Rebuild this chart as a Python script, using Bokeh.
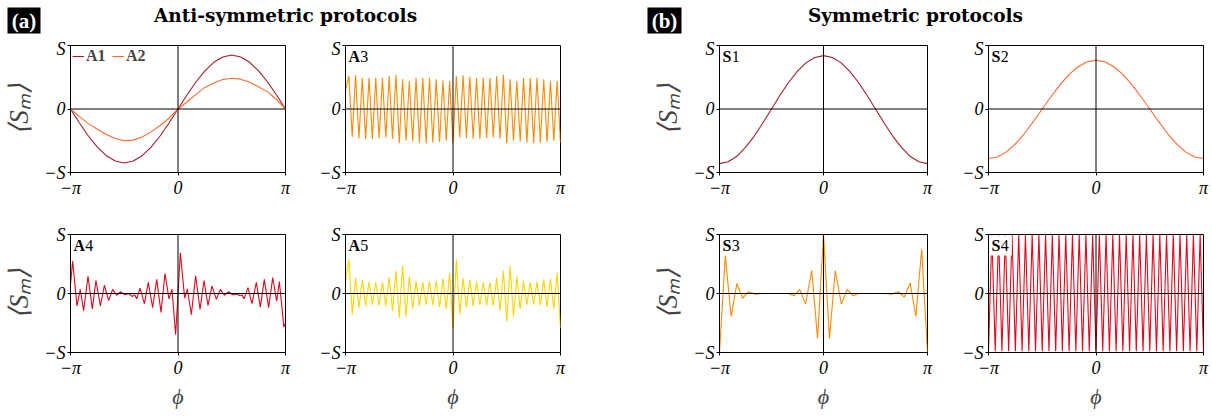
import numpy as np
from bokeh.plotting import figure
from bokeh.models import Range1d, Span, Label, Legend, LegendItem, BoxAnnotation, FixedTicker
from bokeh.layouts import column, row
from bokeh.embed import file_html
from bokeh.resources import INLINE

# ---------------- data: phi in units of pi, <S_m> in units of S ----------------
phi_smooth = np.linspace(-1.0, 1.0, 25)
A1 = [0.0, -0.22, -0.425, -0.60, -0.735, -0.82, -0.85, -0.82, -0.735, -0.60, -0.425, -0.22, 0.0,
      0.22, 0.425, 0.60, 0.735, 0.82, 0.85, 0.82, 0.735, 0.60, 0.425, 0.22, 0.0]
A2 = [0.0, -0.12, -0.23, -0.32, -0.40, -0.465, -0.50, -0.49, -0.44, -0.36, -0.26, -0.145, 0.0,
      0.11, 0.23, 0.34, 0.41, 0.465, 0.485, 0.47, 0.42, 0.35, 0.27, 0.15, 0.0]
S1 = [-0.86, -0.83, -0.745, -0.605, -0.43, -0.22, 0.0, 0.22, 0.425, 0.595, 0.73, 0.81, 0.84,
      0.81, 0.73, 0.595, 0.425, 0.22, 0.0, -0.22, -0.43, -0.605, -0.745, -0.83, -0.86]
S2 = [-0.78, -0.755, -0.675, -0.55, -0.39, -0.20, 0.0, 0.20, 0.385, 0.545, 0.665, 0.745, 0.77,
      0.745, 0.665, 0.545, 0.385, 0.20, 0.0, -0.20, -0.39, -0.55, -0.675, -0.755, -0.78]

phi_fast = np.linspace(-1.0, 1.0, 65)
A3 = [0.30,
      0.52, -0.44, 0.53, -0.46, 0.49, -0.47, 0.49, -0.47, 0.49, -0.46, 0.49, -0.45, 0.52, -0.47, 0.54, -0.54,
      0.47, -0.50, 0.44, -0.51, 0.49, -0.53, 0.49, -0.54, 0.49, -0.53, 0.47, -0.52, 0.45, -0.50, 0.44, -0.53,
      0.52, -0.45, 0.53, -0.46, 0.51, -0.47, 0.49, -0.47, 0.49, -0.46, 0.49, -0.45, 0.52, -0.47, 0.54, -0.54,
      0.47, -0.50, 0.44, -0.51, 0.49, -0.53, 0.49, -0.54, 0.49, -0.53, 0.47, -0.52, 0.45, -0.50, 0.44, -0.53]
A5 = [0.20,
      0.58, -0.35, 0.26, -0.24, 0.23, -0.21, 0.20, -0.19, 0.19, -0.20, 0.19, -0.21, 0.27, -0.29, 0.39, -0.41,
      0.47, -0.39, 0.29, -0.26, 0.21, -0.21, 0.19, -0.19, 0.20, -0.20, 0.22, -0.23, 0.25, -0.26, 0.35, -0.59,
      0.58, -0.35, 0.26, -0.24, 0.23, -0.21, 0.20, -0.19, 0.19, -0.20, 0.19, -0.21, 0.27, -0.29, 0.39, -0.47,
      0.47, -0.39, 0.29, -0.26, 0.21, -0.19, 0.19, -0.19, 0.20, -0.20, 0.24, -0.23, 0.25, -0.26, 0.35, -0.59]
S4 = [-0.98,
      1.0, -0.98, 1.0, -0.98, 1.0, -0.98, 1.0, -0.98, 1.0, -0.98, 1.0, -0.98, 1.0, -0.98, 1.0, -0.98,
      1.0, -0.98, 1.0, -0.98, 1.0, -0.98, 1.0, -0.98, 1.0, -0.98, 1.0, -0.98, 1.0, -0.98, 1.0, -0.98,
      1.0, -0.98, 1.0, -0.98, 1.0, -0.98, 1.0, -0.98, 1.0, -0.98, 1.0, -0.98, 1.0, -0.98, 1.0, -0.98,
      1.0, -0.98, 1.0, -0.98, 1.0, -0.98, 1.0, -0.98, 1.0, -0.98, 1.0, -0.98, 1.0, -0.98, 1.0, -0.98]

A4_phi = [-1.0, -0.980, -0.940, -0.909, -0.878, -0.837, -0.797, -0.763, -0.722, -0.685,
          -0.645, -0.608, -0.571, -0.533, -0.496, -0.459, -0.425, -0.403, -0.384, -0.353,
          -0.313, -0.276, -0.236, -0.198, -0.158, -0.121, -0.084, -0.056, -0.022,
          0.022, 0.062, 0.087, 0.124, 0.164, 0.205, 0.242, 0.279, 0.316, 0.357,
          0.394, 0.431, 0.471, 0.509, 0.543, 0.577, 0.595, 0.614, 0.651, 0.688,
          0.729, 0.766, 0.803, 0.843, 0.881, 0.918, 0.943, 0.985, 1.0]
A4 = [0.15, 0.55, -0.21, 0.07, -0.29, 0.29, -0.26, 0.22, -0.21, 0.14,
      -0.12, 0.07, -0.03, 0.03, -0.02, 0.0, -0.05, -0.02, -0.09, 0.09,
      -0.17, 0.19, -0.24, 0.24, -0.32, 0.34, -0.09, 0.07, -0.70,
      0.69, -0.08, 0.08, -0.36, 0.30, -0.27, 0.22, -0.20, 0.13, -0.10,
      0.07, -0.03, 0.03, -0.02, -0.01, -0.04, -0.02, -0.09, 0.10, -0.17,
      0.19, -0.23, 0.24, -0.24, 0.27, -0.13, 0.20, -0.57, -0.50]

S3_phi = [-1.0, -0.944, -0.888, -0.833, -0.777, -0.721, -0.662, -0.584, -0.336, -0.284,
          -0.229, -0.173, -0.113, -0.057, 0.0, 0.057, 0.113, 0.172, 0.228, 0.284,
          0.336, 0.58, 0.66, 0.72, 0.777, 0.833, 0.888, 0.944, 1.0]
S3 = [-1.0, 0.64, -0.39, 0.17, -0.08, 0.03, -0.01, 0.0, 0.0, -0.04,
      0.07, -0.18, 0.39, -0.76, 1.0, -0.76, 0.39, -0.18, 0.07, -0.04,
      0.0, 0.0, -0.01, 0.03, -0.06, 0.18, -0.39, 0.75, -1.0]

x_ticks = [-1, 0, 1]
x_tick_labels = ["\u2212\u03c0", "0", "\u03c0"]
y_ticks = [-1, 0, 1]
y_tick_labels = ["\u2212S", "0", "S"]

C_DARK = "#a11d2b"
C_ORRED = "#ff6a2c"
C_ORANGE = "#ff8a00"
C_RED = "#e0081c"
C_GOLD = "#ffd400"

FONT = "Liberation Serif"
FW, FH = 215, 129


def make_fig(bl, br, bt, bb, ylabel=False, xlabel=False):
    p = figure(width=FW + bl + br, height=FH + bt + bb,
               x_range=Range1d(-1, 1), y_range=Range1d(-1, 1),
               output_backend="svg", toolbar_location=None,
               min_border_left=bl, min_border_right=br,
               min_border_top=bt, min_border_bottom=bb)
    p.grid.visible = False
    p.outline_line_color = "black"
    p.outline_line_alpha = 1.0
    p.outline_line_width = 1
    for ax in (p.xaxis[0], p.yaxis[0]):
        ax.major_tick_in = 0
        ax.major_tick_out = 3
        ax.minor_tick_line_color = None
        ax.axis_line_color = "black"
        ax.major_tick_line_color = "black"
        ax.major_label_text_font = FONT
        ax.major_label_text_font_size = "18px"
        ax.major_label_text_font_style = "italic"
        ax.major_label_text_color = "black"
        ax.major_label_standoff = 2
    p.xaxis.ticker = FixedTicker(ticks=x_ticks)
    p.xaxis.major_label_overrides = {t: l for t, l in zip(x_ticks, x_tick_labels)}
    p.yaxis.ticker = FixedTicker(ticks=y_ticks)
    p.yaxis.major_label_overrides = {t: l for t, l in zip(y_ticks, y_tick_labels)}
    if ylabel:
        p.yaxis.axis_label = "\u27e8S\u2098\u27e9"
        p.yaxis.axis_label_text_font = FONT
        p.yaxis.axis_label_text_font_size = "27px"
        p.yaxis.axis_label_text_font_style = "italic"
        p.yaxis.axis_label_standoff = 7
    if xlabel:
        p.xaxis.axis_label = "\u03d5"
        p.xaxis.axis_label_text_font = FONT
        p.xaxis.axis_label_text_font_size = "22px"
        p.xaxis.axis_label_text_font_style = "italic"
        p.xaxis.axis_label_standoff = 3
    p.add_layout(Span(location=0, dimension="width", line_color="black", line_width=1))
    p.add_layout(Span(location=0, dimension="height", line_color="black", line_width=1))
    return p


def panel_label(p, letter, digit, yoff=-10.5):
    wid = 11.8 if letter == "A" else 9.2
    p.add_layout(Label(x=-1, y=1, x_offset=3, y_offset=yoff, text=letter,
                       text_font=FONT, text_font_size="16px", text_font_style="bold",
                       text_baseline="alphabetic", text_align="left", text_color="black"))
    p.add_layout(Label(x=-1, y=1, x_offset=3 + wid, y_offset=yoff, text=digit,
                       text_font=FONT, text_font_size="16px", text_font_style="normal",
                       text_baseline="alphabetic", text_align="left", text_color="black"))


LW = 1.1

# Row 1
f1 = make_fig(70, 30, 7, 26, ylabel=True)
r1 = f1.line(phi_smooth, A1, line_color=C_DARK, line_width=LW)
r2 = f1.line(phi_smooth, A2, line_color=C_ORRED, line_width=LW)
leg = Legend(items=[LegendItem(label="A1", renderers=[r1]), LegendItem(label="A2", renderers=[r2])],
             location="top_left", orientation="horizontal", margin=0, padding=2, spacing=6,
             glyph_width=12, glyph_height=14, label_standoff=2,
             label_text_font=FONT, label_text_font_size="16px", label_text_font_style="bold",
             background_fill_alpha=0, border_line_alpha=0)
f1.add_layout(leg)

f2 = make_fig(30, 90, 7, 26)
f2.line(phi_fast, A3, line_color=C_ORANGE, line_width=LW)
panel_label(f2, "A", "3")

f3 = make_fig(62, 30, 7, 26, ylabel=True)
f3.line(phi_smooth, S1, line_color=C_DARK, line_width=LW)
panel_label(f3, "S", "1")

f4 = make_fig(31, 8, 7, 26)
f4.line(phi_smooth, S2, line_color=C_ORRED, line_width=LW)
panel_label(f4, "S", "2")

# Row 2
f5 = make_fig(70, 30, 34, 48, ylabel=True, xlabel=True)
f5.line(A4_phi, A4, line_color=C_RED, line_width=LW)
panel_label(f5, "A", "4", yoff=-11)

f6 = make_fig(30, 90, 34, 48, xlabel=True)
f6.line(phi_fast, A5, line_color=C_GOLD, line_width=LW)
panel_label(f6, "A", "5", yoff=-11)

f7 = make_fig(62, 30, 34, 48, ylabel=True, xlabel=True)
f7.line(S3_phi, S3, line_color=C_ORANGE, line_width=LW)
panel_label(f7, "S", "3", yoff=-11)

f8 = make_fig(31, 8, 34, 48, xlabel=True)
f8.line(phi_fast, S4, line_color=C_RED, line_width=LW)
f8.add_layout(BoxAnnotation(left=-0.99, right=-0.783, bottom=0.643, top=0.985,
                            fill_color="white", fill_alpha=1.0, line_alpha=0))
panel_label(f8, "S", "4", yoff=-11)

# Header (page pixels: x right, y measured up from the header bottom)
HW = 1211
hdr = figure(width=HW, height=38, x_range=Range1d(0, HW), y_range=Range1d(0, 38),
             output_backend="svg", toolbar_location=None, x_axis_type=None, y_axis_type=None,
             min_border=0, min_border_left=0, min_border_right=0, min_border_top=0, min_border_bottom=0)
hdr.grid.visible = False
hdr.outline_line_color = None
hdr.add_layout(BoxAnnotation(left=7, right=40, bottom=5, top=31, fill_color="black", fill_alpha=1, line_alpha=0))
hdr.add_layout(BoxAnnotation(left=647, right=681, bottom=5, top=31, fill_color="black", fill_alpha=1, line_alpha=0))
hdr.add_layout(Label(x=23.5, y=17.5, text="(a)", text_color="white", text_font=FONT, text_font_size="21px",
                     text_font_style="bold", text_align="center", text_baseline="middle"))
hdr.add_layout(Label(x=664, y=17.5, text="(b)", text_color="white", text_font=FONT, text_font_size="21px",
                     text_font_style="bold", text_align="center", text_baseline="middle"))
hdr.add_layout(Label(x=285, y=23, text="Anti-symmetric protocols", text_color="black",
                     text_font="DejaVu Serif", text_font_size="18.5px", text_font_style="bold",
                     text_align="center", text_baseline="alphabetic"))
hdr.add_layout(Label(x=915, y=23, text="Symmetric protocols", text_color="black",
                     text_font="DejaVu Serif", text_font_size="18.5px", text_font_style="bold",
                     text_align="center", text_baseline="alphabetic"))

layout = column(hdr, row(f1, f2, f3, f4), row(f5, f6, f7, f8))
open("out.html", "w").write(file_html(layout, INLINE))
